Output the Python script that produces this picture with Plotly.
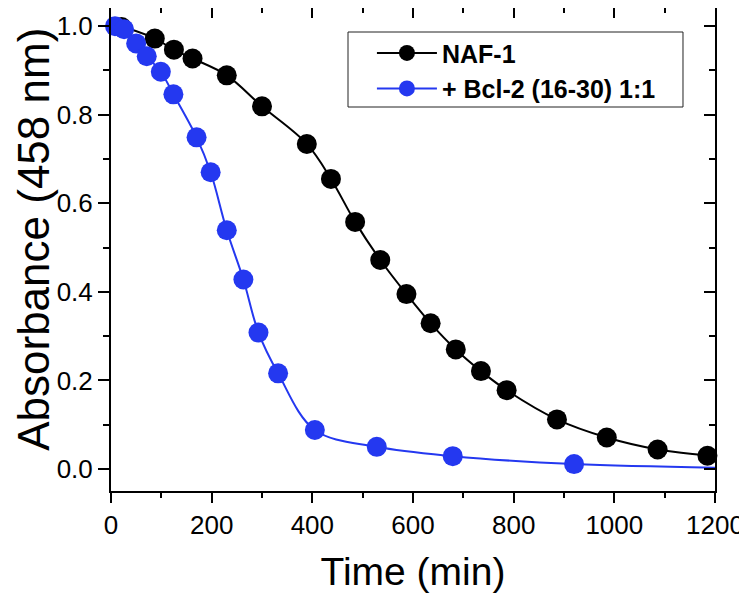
import plotly.graph_objects as go

# ---- data ----
naf_time = [21, 87, 125, 162, 230, 300, 389, 437, 485, 535, 587, 635, 685, 735, 786, 886, 985, 1086, 1185]
naf_abs = [0.998, 0.972, 0.947, 0.927, 0.889, 0.819, 0.734, 0.655, 0.558, 0.472, 0.395, 0.329, 0.270, 0.221, 0.178, 0.112, 0.071, 0.044, 0.030]

bcl_time = [8, 26, 50, 71, 99, 124, 170, 198, 230, 263, 293, 332, 405, 528, 679, 920]
bcl_abs = [1.000, 0.993, 0.961, 0.932, 0.897, 0.846, 0.749, 0.670, 0.539, 0.428, 0.308, 0.216, 0.088, 0.050, 0.029, 0.011]

# fitted-curve end points
naf_fit_start = (0, 1.0)
naf_fit_end = (1200, 0.027)
bcl_fit_start = (0, 1.0)
bcl_fit_end = (1200, 0.003)

series_names = ["NAF-1", "+ Bcl-2 (16-30) 1:1"]
x_ticks = [0, 200, 400, 600, 800, 1000, 1200]
y_ticks = [0.0, 0.2, 0.4, 0.6, 0.8, 1.0]
y_tick_text = ["0.0", "0.2", "0.4", "0.6", "0.8", "1.0"]
x_range = [0, 1200]
y_range = [-0.0497, 1.041]

BLACK = "#000000"
BLUE = "#2438f0"
FONT = "Liberation Sans, Arial, sans-serif"
MS = 20


def series(t, a, start, end):
    xs = [start[0]] + list(t) + [end[0]]
    ys = [start[1]] + list(a) + [end[1]]
    sizes = [0] + [MS] * len(t) + [0]
    return xs, ys, sizes


fig = go.Figure()

for name, t, a, s, e, col in [
    (series_names[0], naf_time, naf_abs, naf_fit_start, naf_fit_end, BLACK),
    (series_names[1], bcl_time, bcl_abs, bcl_fit_start, bcl_fit_end, BLUE),
]:
    xs, ys, sizes = series(t, a, s, e)
    fig.add_trace(go.Scatter(
        x=xs, y=ys, name=name, mode="lines+markers",
        line=dict(color=col, width=2, shape="spline", smoothing=1.0),
        marker=dict(color=col, size=sizes, opacity=1, line=dict(width=0)),
        opacity=1,
        cliponaxis=False,
    ))

# helper trace to carry the mirrored (inside) tick axes
fig.add_trace(go.Scatter(x=[None], y=[None], xaxis="x2", yaxis="y2",
                         showlegend=False, hoverinfo="skip"))

axis_common = dict(
    showline=True, linecolor="black", linewidth=2,
    showgrid=False, zeroline=False,
    tickcolor="black", tickwidth=2,
    tickfont=dict(family=FONT, size=26, color="black"),
)

fig.update_layout(
    width=739, height=587,
    margin=dict(l=103, r=32, t=0, b=104),
    paper_bgcolor="white", plot_bgcolor="white",
    showlegend=True,
    legend=dict(
        x=0.432, y=0.954, xanchor="left", yanchor="top",
        bgcolor="rgba(0,0,0,0)", borderwidth=0,
        font=dict(family=FONT, size=25, color="black", weight="bold"),
        itemwidth=60,
        tracegroupgap=0,
    ),
    shapes=[dict(
        type="rect", xref="paper", yref="paper",
        x0=0.3924, x1=0.947, y0=0.795, y1=0.9503,
        line=dict(color="#222", width=1), fillcolor="rgba(0,0,0,0)", layer="above",
    )],
    xaxis=dict(
        range=x_range, tickvals=x_ticks, ticks="outside", ticklen=10,
        minor=dict(dtick=100, ticks="outside", ticklen=5, tickwidth=2, tickcolor="black"),
        mirror=True,
        title=dict(text="Time (min)", font=dict(family=FONT, size=39, color="black"), standoff=18),
        automargin=False,
        **axis_common,
    ),
    yaxis=dict(
        range=y_range, tickvals=y_ticks, ticktext=y_tick_text, ticks="outside", ticklen=11,
        minor=dict(dtick=0.1, tick0=0, ticks="outside", ticklen=6, tickwidth=2, tickcolor="black"),
        mirror=True,
        automargin=False,
        **axis_common,
    ),
    xaxis2=dict(
        overlaying="x", side="top", anchor="y", range=x_range,
        tickvals=x_ticks, ticks="inside", ticklen=10, tickwidth=2, tickcolor="black",
        minor=dict(dtick=100, ticks="inside", ticklen=5, tickwidth=2, tickcolor="black"),
        showticklabels=False, showgrid=False, zeroline=False, showline=False,
    ),
    yaxis2=dict(
        overlaying="y", side="right", anchor="x", range=y_range,
        tickvals=y_ticks, ticks="inside", ticklen=11, tickwidth=2, tickcolor="black",
        minor=dict(dtick=0.1, tick0=0, ticks="inside", ticklen=6, tickwidth=2, tickcolor="black"),
        showticklabels=False, showgrid=False, zeroline=False, showline=False,
    ),
    annotations=[dict(
        text="Absorbance (458 nm)", textangle=-90,
        xref="paper", yref="paper", x=-0.1295, y=0.5217,
        xanchor="center", yanchor="middle", showarrow=False,
        font=dict(family=FONT, size=44, color="black"),
    )],
)

fig.write_html("out.html")
